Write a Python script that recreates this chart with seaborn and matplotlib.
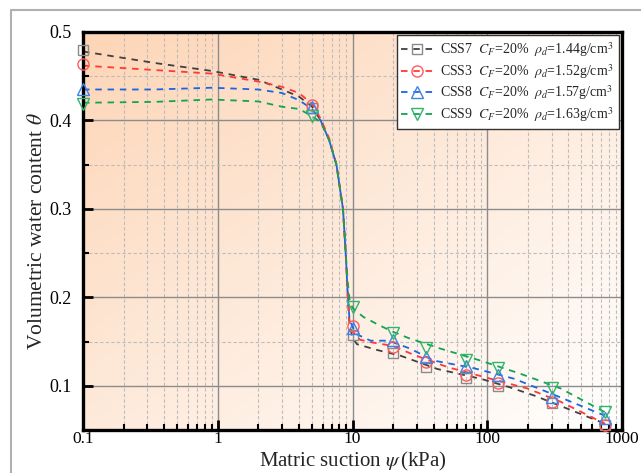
import numpy as np
import pandas as pd
import matplotlib
matplotlib.use("Agg")
import matplotlib.pyplot as plt
from matplotlib.lines import Line2D
from matplotlib.ticker import MultipleLocator, FixedLocator, LogLocator, NullFormatter, FixedFormatter
import seaborn as sns

# ---------------- data ----------------
series = ["CSS7", "CSS3", "CSS8", "CSS9"]
densities = ["1.44", "1.52", "1.57", "1.63"]

meas_x = [0.1, 5, 10, 20, 35, 70, 120, 300, 750]
css7_meas = [0.480, 0.414, 0.157, 0.137, 0.121, 0.109, 0.100, 0.080, 0.056]
css3_meas = [0.4635, 0.418, 0.168, 0.144, 0.127, 0.112, 0.103, 0.082, 0.056]
css8_meas = [0.436, 0.415, 0.165, 0.152, 0.132, 0.122, 0.112, 0.087, 0.064]
css9_meas = [0.419, 0.405, 0.189, 0.160, 0.143, 0.129, 0.120, 0.097, 0.070]

css7_fit_x = [0.1, 0.34, 0.9, 2, 3, 4, 5, 5.8, 6.7, 7.6, 8.5, 8.9, 9.25, 9.5, 10, 10.8, 15.2, 22.7, 42.6, 89, 142, 223, 395, 750]
css7_fit_y = [0.478, 0.465, 0.456, 0.446, 0.435, 0.427, 0.416, 0.400, 0.378, 0.350, 0.300, 0.250, 0.200, 0.170, 0.154, 0.147, 0.1405, 0.134, 0.119, 0.108, 0.099, 0.089, 0.074, 0.057]

css3_fit_x = [0.1, 0.34, 0.9, 2, 3, 4, 5, 5.8, 6.7, 7.6, 8.5, 8.9, 9.25, 9.45, 9.8, 11.4, 14, 20, 28.5, 51, 100, 198, 350, 750]
css3_fit_y = [0.462, 0.457, 0.453, 0.444, 0.438, 0.431, 0.419, 0.402, 0.380, 0.350, 0.300, 0.250, 0.200, 0.175, 0.163, 0.152, 0.149, 0.145, 0.135, 0.121, 0.109, 0.097, 0.082, 0.057]

css8_fit_x = [0.1, 0.34, 0.9, 2, 3, 4, 5, 5.8, 6.7, 7.6, 8.5, 8.9, 9.25, 9.5, 10.5, 13.6, 18.5, 26.8, 40, 79, 158, 300, 750]
css8_fit_y = [0.435, 0.435, 0.437, 0.435, 0.431, 0.423, 0.413, 0.400, 0.378, 0.350, 0.300, 0.250, 0.200, 0.175, 0.159, 0.151, 0.151, 0.142, 0.1285, 0.120, 0.108, 0.091, 0.066]

css9_fit_x = [0.1, 0.34, 0.9, 2, 3, 4, 5, 5.8, 6.7, 7.6, 8.5, 8.9, 9.25, 9.5, 10, 12, 16, 20, 26, 45, 89, 177, 350, 750]
css9_fit_y = [0.420, 0.421, 0.4237, 0.4215, 0.4155, 0.413, 0.405, 0.398, 0.378, 0.350, 0.300, 0.250, 0.215, 0.198, 0.188, 0.178, 0.168, 0.161, 0.154, 0.142, 0.1285, 0.1135, 0.097, 0.070]

x_ticks = [0.1, 1, 10, 100, 1000]
x_tick_labels = ["0.1", "1", "10", "100", "1000"]
y_ticks = [0.1, 0.2, 0.3, 0.4, 0.5]
y_tick_labels = ["0.1", "0.2", "0.3", "0.4", "0.5"]

# ---------------- style ----------------
sns.set_style("ticks")
plt.rcParams["font.family"] = ["Liberation Serif", "DejaVu Serif"]
plt.rcParams["mathtext.fontset"] = "stix"

line_colors = ["#404040", "#ff3838", "#1a66e0", "#12a455"]
mark_colors = ["#8a8a8a", "#ff5a5a", "#3c82ea", "#2fb56c"]
markers = ["s", "o", "^", "v"]
msizes = [7, 8, 8.5, 8.5]

meas = [css7_meas, css3_meas, css8_meas, css9_meas]
fits = [(css7_fit_x, css7_fit_y), (css3_fit_x, css3_fit_y),
        (css8_fit_x, css8_fit_y), (css9_fit_x, css9_fit_y)]

fig = plt.figure(figsize=(6.41, 4.73), dpi=100)
ax = fig.add_axes([83 / 641, 1 - 430 / 473, (622 - 83) / 641, (430 - 32) / 473])

# background gradient (peach top-left -> white bottom-right)
n = 200
u = np.linspace(0, 1, n)
U, V = np.meshgrid(u, u)  # V: 0 at top row
t = np.clip((U + V) / 2.0, 0, 1)
peach = np.array([253, 213, 182]) / 255.0
white = np.array([1.0, 1.0, 1.0])
img = peach[None, None, :] * (1 - t[..., None]) + white[None, None, :] * t[..., None]
ax.imshow(img, extent=[0, 1, 0, 1], transform=ax.transAxes, aspect="auto",
          zorder=0, interpolation="bilinear")

for i, name in enumerate(series):
    fx, fy = fits[i]
    df = pd.DataFrame({"x": fx, "y": fy})
    sns.lineplot(data=df, x="x", y="y", ax=ax, sort=False, estimator=None,
                 color=line_colors[i], lw=1.3, dashes=False, zorder=3)
    ax.lines[-1].set_dashes((3.6, 3.2))
    ax.plot(meas_x, meas[i], linestyle="none", marker=markers[i],
            markersize=msizes[i], markerfacecolor="none",
            markeredgecolor=mark_colors[i], markeredgewidth=1.0,
            clip_on=False, zorder=5)

ax.set_xscale("log")
ax.set_xlim(0.1, 1000)
ax.set_ylim(0.05, 0.5)

ax.xaxis.set_major_locator(FixedLocator(x_ticks))
ax.xaxis.set_major_formatter(FixedFormatter(x_tick_labels))
ax.xaxis.set_minor_locator(LogLocator(base=10, subs=np.arange(2, 10), numticks=20))
ax.xaxis.set_minor_formatter(NullFormatter())
ax.yaxis.set_major_locator(FixedLocator(y_ticks))
ax.yaxis.set_major_formatter(FixedFormatter(y_tick_labels))
ax.yaxis.set_minor_locator(MultipleLocator(0.05))

ax.grid(which="major", color="#8c8c8c", lw=1.0, ls="-", zorder=1)
ax.grid(which="minor", color="#bdbdbd", lw=0.8, ls=(0, (3, 2)), zorder=1)
ax.set_axisbelow(True)

for sp in ax.spines.values():
    sp.set_linewidth(2.4)
    sp.set_color("black")
    sp.set_zorder(4)

ax.tick_params(which="major", direction="in", length=7, width=2, labelsize=13,
               colors="black")
ax.tick_params(axis="x", which="major", pad=1, labelsize=12.5)
ax.tick_params(axis="y", which="major", pad=8)
ax.tick_params(which="minor", direction="in", length=4, width=1.5, colors="black")

ax.set_xlabel(r"Matric suction $\psi\,$(kPa)", fontsize=15, va="bottom")
ax.xaxis.set_label_coords(0.5, -43.0 / 398)
ax.set_ylabel(r"Volumetric water content $\theta$", fontsize=15.5, va="center")
ax.yaxis.set_label_coords(-0.085, 0.5)

handles = []
labels = []
for i, name in enumerate(series):
    h = Line2D([0], [0], color=line_colors[i], lw=1.3, dashes=(3.6, 3.2),
               marker=markers[i], markersize=msizes[i], markerfacecolor="none",
               markeredgecolor=mark_colors[i], markeredgewidth=1.0)
    handles.append(h)
    labels.append(name + r"  $C_F$=20%  $\rho_d$=" + densities[i] + r"g/cm$^3$")

leg = ax.legend(handles, labels, loc="upper right", fontsize=10, frameon=True,
                fancybox=False, edgecolor="#333333", framealpha=1.0,
                borderaxespad=0.25, handlelength=2.3, handletextpad=0.5,
                labelspacing=0.2, borderpad=0.35)
leg.get_frame().set_linewidth(1.0)
leg.set_zorder(6)

# outer grey frame of the figure
fig.add_artist(Line2D([10.5 / 641, 10.5 / 641], [0, 463 / 473], color="#b0b0b0", lw=1.5,
                      transform=fig.transFigure))
fig.add_artist(Line2D([10.5 / 641, 1.0], [463 / 473, 463 / 473], color="#b0b0b0", lw=1.5,
                      transform=fig.transFigure))

fig.savefig("out.png", dpi=100)
